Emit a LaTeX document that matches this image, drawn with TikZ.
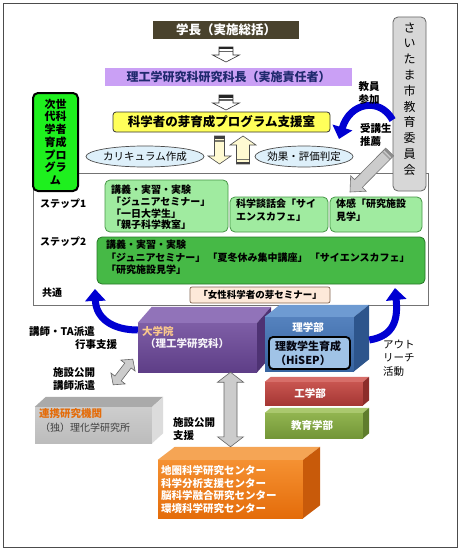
\documentclass[tikz,border=0pt]{standalone}
\usepackage{fontspec}
\setmainfont{Noto Sans CJK JP}
\usetikzlibrary{arrows.meta,calc,shapes.geometric}
\definecolor{chiefc}{RGB}{73,66,45}
\definecolor{deanc}{RGB}{202,160,245}
\definecolor{navyc}{RGB}{32,42,110}
\definecolor{yelc}{RGB}{255,255,90}
\definecolor{lbluec}{RGB}{222,240,250}
\definecolor{vgreenc}{RGB}{30,240,30}
\definecolor{lgrayc}{RGB}{215,215,215}
\definecolor{sonef}{RGB}{160,235,160}
\definecolor{soned}{RGB}{70,150,70}
\definecolor{stwof}{RGB}{70,185,70}
\definecolor{stwod}{RGB}{40,120,40}
\definecolor{peachc}{RGB}{253,233,217}
\definecolor{peachd}{RGB}{130,100,80}
\definecolor{arrblue}{RGB}{0,0,210}
\definecolor{creamc}{RGB}{255,250,210}
\definecolor{purA}{RGB}{126,94,166}
\definecolor{purB}{RGB}{94,62,135}
\definecolor{purC}{RGB}{145,115,185}
\definecolor{purD}{RGB}{78,50,115}
\definecolor{bluA}{RGB}{85,130,190}
\definecolor{bluB}{RGB}{55,100,160}
\definecolor{bluC}{RGB}{110,155,210}
\definecolor{bluD}{RGB}{45,85,140}
\definecolor{hisepc}{RGB}{160,195,230}
\definecolor{redA}{RGB}{200,85,80}
\definecolor{redB}{RGB}{165,55,52}
\definecolor{redC}{RGB}{215,110,105}
\definecolor{redD}{RGB}{140,45,42}
\definecolor{grnA}{RGB}{145,180,80}
\definecolor{grnB}{RGB}{115,150,55}
\definecolor{grnC}{RGB}{170,200,110}
\definecolor{grnD}{RGB}{95,125,45}
\definecolor{gryA}{RGB}{205,205,205}
\definecolor{gryB}{RGB}{188,188,188}
\definecolor{gryC}{RGB}{170,170,170}
\definecolor{gryD}{RGB}{220,220,220}
\definecolor{orA}{RGB}{245,145,50}
\definecolor{orB}{RGB}{228,108,10}
\definecolor{orC}{RGB}{245,165,85}
\definecolor{orD}{RGB}{200,90,10}
\definecolor{orTxt}{RGB}{228,108,10}
\definecolor{dgkTxt}{RGB}{250,200,140}

% block arrow: tail, tip, shaft half, head half, head length, style
\newcommand{\blockarr}[6]{%
  \path ($(#2)!#5!(#1)$) coordinate (bab);
  \filldraw[#6] ($(#1)!#3!90:(#2)$) -- ($(bab)!#3!90:(#2)$) -- ($(bab)!#4!90:(#2)$) -- (#2)
    -- ($(bab)!#4!-90:(#2)$) -- ($(bab)!#3!-90:(#2)$) -- ($(#1)!#3!-90:(#2)$) -- cycle;
}
% band at tail: tail, tip, half, colour
\newcommand{\tailband}[4]{%
  \path ($(#1)!2.5pt!(#2)$) coordinate (tbA) ($(#1)!4pt!(#2)$) coordinate (tbB) ($(#1)!5.5pt!(#2)$) coordinate (tbC);
  \fill[#4] ($(#1)!#3!90:(#2)$) -- ($(#1)!#3!-90:(#2)$) -- ($(tbA)!#3!-90:(#2)$) -- ($(tbA)!#3!90:(#2)$) -- cycle;
  \fill[#4,opacity=0.7] ($(tbB)!#3!90:(#2)$) -- ($(tbB)!#3!-90:(#2)$) -- ($(tbC)!#3!-90:(#2)$) -- ($(tbC)!#3!90:(#2)$) -- cycle;
}
% double block arrow: end1, end2, shaft half, head half, head len, style
\newcommand{\dblarr}[6]{%
  \path ($(#1)!#5!(#2)$) coordinate (dbA) ($(#2)!#5!(#1)$) coordinate (dbB);
  \filldraw[#6] (#1) -- ($(dbA)!#4!90:(#2)$) -- ($(dbA)!#3!90:(#2)$) -- ($(dbB)!#3!-90:(#1)$) -- ($(dbB)!#4!-90:(#1)$)
    -- (#2) -- ($(dbB)!#4!90:(#1)$) -- ($(dbB)!#3!90:(#1)$) -- ($(dbA)!#3!-90:(#2)$) -- ($(dbA)!#4!-90:(#2)$) -- cycle;
}
% 3D box: name, at, w, h, dx, dy, front style, top colour, side colour
\newcommand{\boxthreed}[9]{%
  \node[inner sep=0pt, minimum width=#3, minimum height=#4, #7] (#1) at #2 {};
  \fill[#8] (#1.north west) -- ++(#5,-#6) -- ($(#1.north east)+(#5,-#6)$) -- (#1.north east) -- cycle;
  \fill[#9] (#1.north east) -- ++(#5,-#6) -- ($(#1.south east)+(#5,-#6)$) -- (#1.south east) -- cycle;
}

\begin{document}
\begin{tikzpicture}[x=1pt,y=-1pt,
  every node/.style={inner sep=0pt},
  font=\fontsize{10}{12}\selectfont,
  sonebox/.style={fill=sonef, draw=soned, line width=0.8pt, rounded corners=5pt},
  bluearr/.style={draw=arrblue, line width=7pt, -{Triangle[width=20pt,length=12pt]}},
  hollow/.style={fill=white, draw=black!80, line width=0.6pt},
  creamarr/.style={fill=creamc, draw=black!70, line width=0.6pt},
  grayarr/.style={fill=gray!40, draw=black!60, line width=0.6pt},
  lbl/.style={font=\bfseries\fontsize{10.5}{13}\selectfont, align=left}
]
\useasboundingbox (0,0) rectangle (460,551);
\fill[white] (0,0) rectangle (460,551);
\draw[black!70, line width=1pt] (3,4) rectangle (457,547);

% main program frame
\node[draw=black!55, line width=0.8pt, fill=white, minimum width=395pt, minimum height=132pt] (main) at (230.5,239) {};

% top hierarchy
\node[fill=chiefc, minimum width=146pt, minimum height=18pt, text=white, font=\bfseries\fontsize{12.5}{14}\selectfont] (chief) at (226,30) {学長（実施総括）};
\node[fill=deanc, minimum width=247pt, minimum height=18pt, text=navyc, font=\bfseries\fontsize{12}{14}\selectfont] (dean) at (228.5,77) {理工学研究科研究科長（実施責任者）};
\node[fill=yelc, draw=black!80, line width=0.8pt, rounded corners=3pt, minimum width=217pt, minimum height=20pt, font=\bfseries\fontsize{12.5}{14}\selectfont] (office) at (221.5,122) {科学者の芽育成プログラム支援室};

\coordinate (aOt) at (226,47); \coordinate (aOe) at (226,62);
\blockarr{aOt}{aOe}{7pt}{13.5pt}{7pt}{hollow}
\tailband{aOt}{aOe}{7pt}{black!85}
\coordinate (aTt) at (226,95); \coordinate (aTe) at (226,110);
\blockarr{aTt}{aTe}{7pt}{13.5pt}{7pt}{hollow}
\tailband{aTt}{aTe}{7pt}{black!85}

% ellipses and up/down arrows
\node[ellipse, draw=black!70, fill=lbluec, line width=0.7pt, minimum width=118pt, minimum height=21pt] (curr) at (145,156.5) {};
\node[font=\fontsize{10.5}{12}\selectfont] (currT) at (curr) {カリキュラム作成};
\node[ellipse, draw=black!70, fill=lbluec, line width=0.7pt, minimum width=98pt, minimum height=21pt] (eval) at (304,156.5) {};
\node[font=\fontsize{10.5}{12}\selectfont] (evalT) at (eval) {効果・評価判定};

\coordinate (dnT) at (219.5,136); \coordinate (dnE) at (219.5,164);
\blockarr{dnT}{dnE}{5pt}{11.5pt}{8pt}{creamarr}
\tailband{dnT}{dnE}{5pt}{black!75}
\coordinate (upT) at (243,164); \coordinate (upE) at (243,136);
\blockarr{upT}{upE}{6.5pt}{13pt}{9pt}{creamarr}
\tailband{upT}{upE}{6.5pt}{black!75}

% side boxes
\node[fill=vgreenc, draw=black, line width=2pt, rounded corners=5pt, minimum width=45pt, minimum height=98pt] (nextgen) at (55.5,142) {};
\node[align=center, font=\bfseries\fontsize{11}{12.7}\selectfont] (nextgenT) at (nextgen) {次世\\代科\\学者\\育成\\プロ\\グラ\\ム};
\node[fill=lgrayc, draw=black!60, line width=0.8pt, rounded corners=5pt, minimum width=33pt, minimum height=174pt] (city) at (409.5,104) {};
\node[align=center, font=\fontsize{12}{15.8}\selectfont] (cityT) at (409.5,99) {さ\\い\\た\\ま\\市\\教\\育\\委\\員\\会};

% city arrows
\coordinate (bOs) at ($(city.west)+(0,16)$);
\coordinate (bOe) at (339,139);
\draw[bluearr] (bOs) .. controls (380,97) and (350,102) .. (bOe);
\node[lbl] (teach) at (369,93) {教員\\参加};
\node[lbl, anchor=west] (recom) at (360,135) {受講生\\推薦};
\coordinate (pT) at ($(city.west)+(-3,48)$);
\coordinate (pE) at (350,192);
\blockarr{pT}{pE}{5.5pt}{11pt}{12pt}{fill=gray!40, draw=black!55, line width=0.6pt}
\tailband{pT}{pE}{5.5pt}{black!45}

% steps
\node[anchor=west, font=\bfseries\fontsize{10}{12}\selectfont] (stO) at (40,204) {ステップ1};
\node[anchor=west, font=\bfseries\fontsize{10}{12}\selectfont] (stT) at (40,242) {ステップ2};
\node[anchor=west, font=\bfseries\fontsize{10}{12}\selectfont] (common) at (42,293) {共通};

\node[sonebox, minimum width=123pt, minimum height=52pt] (sA) at (166.5,206) {};
\node[anchor=west, align=left, font=\bfseries\fontsize{10}{11.7}\selectfont] (sAT) at (111,207.5) {講義・実習・実験\\「ジュニアセミナー」\\「一日大学生」\\「親子科学教室」};
\node[sonebox, minimum width=98pt, minimum height=35pt] (sB) at (279,214.5) {};
\node[anchor=west, align=left, font=\bfseries\fontsize{10}{12.8}\selectfont] (sBT) at (236,210.5) {科学談話会「サイ\\エンスカフェ」};
\node[sonebox, minimum width=92pt, minimum height=35pt] (sC) at (376,214.5) {};
\node[anchor=west, align=left, font=\bfseries\fontsize{10}{12.8}\selectfont] (sCT) at (336,210.5) {体感「研究施設\\見学」};

\node[fill=stwof, draw=stwod, line width=0.8pt, rounded corners=5pt, minimum width=328pt, minimum height=47pt] (sTwo) at (261,260.5) {};
\node[anchor=west, align=left, font=\bfseries\fontsize{10}{12.5}\selectfont] (sTwoT) at (106,257.5) {講義・実習・実験\\「ジュニアセミナー」\ 「夏冬休み集中講座」\ 「サイエンスカフェ」\\「研究施設見学」};

\node[fill=peachc, draw=peachd, line width=0.7pt, rounded corners=2pt, minimum width=140pt, minimum height=16pt, font=\bfseries\fontsize{9.5}{11}\selectfont] (women) at (260,295) {「女性科学者の芽セミナー」};

% 3D blocks
\boxthreed{dgk}{(197.5,347.5)}{119pt}{49pt}{14}{16}{top color=purA, bottom color=purB}{purC}{purD}
\node[anchor=west, text=dgkTxt, font=\bfseries\fontsize{10.5}{12}\selectfont] (dgkTa) at (142,331) {大学院};
\node[anchor=west, text=white!92!purA, font=\bfseries\fontsize{10.5}{12}\selectfont] (dgkTb) at (145,344) {（理工学研究科）};

\boxthreed{ri}{(309.5,344)}{89pt}{54pt}{15}{12}{top color=bluA, bottom color=bluB}{bluC}{bluD}
\node[text=white, font=\bfseries\fontsize{10.5}{12}\selectfont] (riT) at (308,327) {理学部};
\node[fill=hisepc, draw=black, line width=1.8pt, rounded corners=4pt, minimum width=81pt, minimum height=32pt] (hisep) at (309.5,353) {};
\node[anchor=west, align=left, text=black!85!navyc, font=\bfseries\fontsize{11}{14}\selectfont] (hisepT) at (275,353) {理数学生育成\\（HiSEP）};

\boxthreed{ko}{(314,393.5)}{98pt}{23pt}{6}{5}{top color=redA, bottom color=redB}{redC}{redD}
\node[text=white, font=\bfseries\fontsize{10.5}{12}\selectfont] (koT) at (310,393.5) {工学部};
\boxthreed{edu}{(314,425.5)}{98pt}{25pt}{6}{5}{top color=grnA, bottom color=grnB}{grnC}{grnD}
\node[text=white, font=\bfseries\fontsize{10.5}{12}\selectfont] (eduT) at (312,425) {教育学部};

\boxthreed{rk}{(93.5,425)}{117pt}{36pt}{11}{10}{top color=gryA, bottom color=gryB}{gryC}{gryD}
\node[anchor=west, text=orTxt, font=\bfseries\fontsize{10.5}{12}\selectfont] (rkTa) at (39,414) {連携研究機関};
\node[anchor=west, text=black!75, font=\fontsize{10}{12}\selectfont] (rkTb) at (40,428) {（独）理化学研究所};

\boxthreed{orng}{(230.5,489)}{145pt}{58pt}{17}{13}{top color=orA, bottom color=orB}{orC}{orD}
\node[anchor=west, align=left, text=white, font=\bfseries\fontsize{10.5}{12.5}\selectfont] (orngT) at (161,489.5) {地圏科学研究センター\\科学分析支援センター\\脳科学融合研究センター\\環境科学研究センター};

% lower arrows
\coordinate (vA) at (dgk.south -| orng.north);
\coordinate (vB) at ($(orng.north)+(0,-13)$);
\dblarr{vA}{vB}{6.5pt}{13pt}{10pt}{grayarr}
\coordinate (dA) at ($(dgk.south west)+(-5,-13)$);
\coordinate (dB) at ($(rk.north east)+(-39,-22)$);
\dblarr{dA}{dB}{4pt}{9pt}{8pt}{grayarr}

\coordinate (lbS) at ($(dgk.west)+(0,-17.5)$);
\coordinate (lbE) at (95,289);
\draw[bluearr] (lbS) .. controls (112,330) and (96,318) .. (lbE);
\coordinate (rbS) at ($(ri.east)+(15,-4)$);
\coordinate (rbE) at (395,288);
\draw[bluearr] (rbS) .. controls (395,336) and (398,318) .. (rbE);

% labels
\node[lbl, anchor=west] (labA) at (29,332) {講師・TA派遣};
\node[lbl, anchor=west] (labB) at (75,345) {行事支援};
\node[lbl, anchor=west] (labC) at (53,379.5) {施設公開\\講師派遣};
\node[lbl, anchor=west] (labD) at (173,429) {施設公開\\支援};
\node[anchor=west, align=left, font=\fontsize{10.5}{13.5}\selectfont] (labE) at (383,358) {アウト\\リーチ\\活動};
\end{tikzpicture}
\end{document}
